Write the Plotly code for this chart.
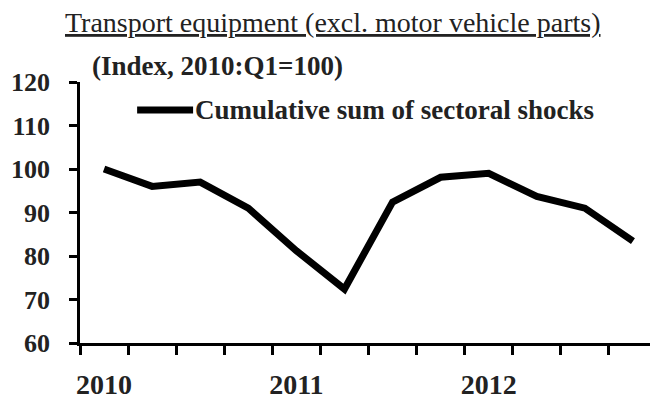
import plotly.graph_objects as go

quarters = ["2010Q1", "2010Q2", "2010Q3", "2010Q4",
            "2011Q1", "2011Q2", "2011Q3", "2011Q4",
            "2012Q1", "2012Q2", "2012Q3", "2012Q4"]
cum_shocks = [100, 96, 97, 91, 81.2, 72.4, 92.4, 98.1, 99, 93.7, 91, 83.4]
year_labels = ["2010", "2011", "2012"]
year_pos = [0.5, 4.5, 8.5]
y_ticks = [60, 70, 80, 90, 100, 110, 120]
series_name = "Cumulative sum of sectoral shocks"

xpos = [i + 0.5 for i in range(len(quarters))]

FONT = "Liberation Serif"
TXT = "#222222"

fig = go.Figure()
fig.add_trace(go.Scatter(
    x=xpos, y=cum_shocks, mode="lines", name=series_name,
    line=dict(color="black", width=7),
    hovertext=quarters, showlegend=False,
))

# legend key (line + label) drawn as in the reference
fig.add_shape(type="line", xref="paper", yref="paper",
              x0=0.099, x1=0.196, y0=0.893, y1=0.893,
              line=dict(color="black", width=7))

# page body has an 8px margin, so the figure is 8px smaller than the window
fig.update_layout(
    width=650, height=395,
    margin=dict(l=72, r=1, t=74, b=60),
    paper_bgcolor="white", plot_bgcolor="white",
    font=dict(family=FONT, color=TXT),
    xaxis=dict(range=[0, 12], showgrid=False, zeroline=False, automargin=False,
               showline=True, linecolor="black", linewidth=2.5,
               tickvals=year_pos, ticktext=["<b>%s</b>" % t for t in year_labels],
               ticks="", ticklabelstandoff=15,
               tickfont=dict(family=FONT, size=28, color=TXT),
               minor=dict(tickvals=list(range(13)), ticks="outside",
                          ticklen=9, tickwidth=2.5, tickcolor="black")),
    yaxis=dict(range=[60, 120], showgrid=False, zeroline=False, automargin=False,
               showline=True, linecolor="black", linewidth=2.5,
               tickvals=y_ticks, ticktext=["<b>%d</b>" % v for v in y_ticks],
               ticks="outside", ticklen=8, tickwidth=2.5, tickcolor="black",
               ticklabelstandoff=14,
               tickfont=dict(family=FONT, size=26, color=TXT)),
    annotations=[
        dict(text="<u>Transport equipment (excl. motor vehicle parts)</u>",
             xref="paper", yref="paper", x=0.4385, y=1.0, yshift=60,
             xanchor="center", yanchor="middle", showarrow=False,
             font=dict(family=FONT, size=28, color=TXT)),
        dict(text="<b>(Index, 2010:Q1=100)</b>",
             xref="paper", yref="paper", x=0.017, y=1.0, yshift=16,
             xanchor="left", yanchor="middle", showarrow=False,
             font=dict(family=FONT, size=27, color=TXT)),
        dict(text="<b>%s</b>" % series_name,
             xref="paper", yref="paper", x=0.196, y=0.893,
             xanchor="left", yanchor="middle", showarrow=False,
             font=dict(family=FONT, size=27, color=TXT)),
    ],
)

fig.write_html("out.html")
